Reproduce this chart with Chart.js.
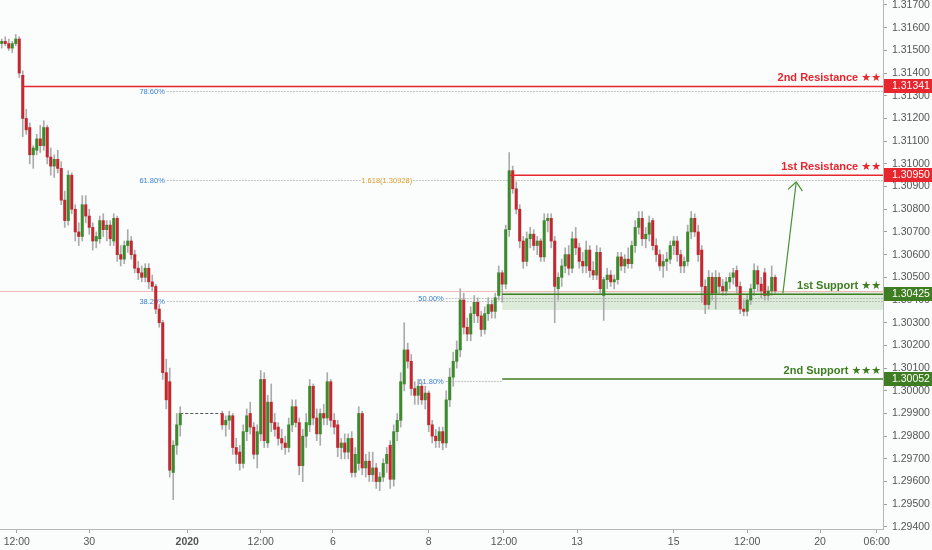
<!DOCTYPE html>
<html><head><meta charset="utf-8">
<script src="https://cdn.jsdelivr.net/npm/chart.js@4.4.1/dist/chart.umd.min.js"></script>
<style>html,body{margin:0;padding:0;background:#fafdfb;overflow:hidden}canvas{display:block}</style>
</head><body>
<canvas id="c" width="932" height="550"></canvas>
<script>
// ---- data (hourly candles) ----
const opens = [
1.3153,1.3154,1.3153,1.3151,1.3153,1.3155,1.3139,1.3120,1.3116,1.3104,
1.3106,1.3111,1.3108,1.3116,1.3103,1.3099,1.3102,1.3098,1.3084,1.3075,
1.3095,1.3080,1.3070,1.3068,1.3082,1.3077,1.3072,1.3066,1.3067,1.3075,
1.3071,1.3073,1.3066,1.3076,1.3060,1.3058,1.3064,1.3066,1.3060,1.3054,
1.3052,1.3050,1.3054,1.3048,1.3046,1.3036,1.3030,1.3008,1.3004,1.2964,
1.2976,1.2985,null,null,null,null,null,null,null,null,
null,null,null,1.2990,1.2985,1.2987,1.2989,1.2975,1.2973,1.2968,
1.2982,1.2990,1.2984,1.2972,1.2981,1.3005,1.2977,1.2995,1.2986,1.2984,
1.2979,1.2977,1.2975,1.2985,1.2993,1.2986,1.2967,1.2980,1.2985,1.3002,
1.2988,1.2981,1.2990,1.2988,1.3004,1.2987,1.2985,1.2975,1.2977,1.2973,
1.2979,1.2964,1.2968,1.2990,1.2966,1.2969,1.2963,1.2966,1.2960,1.2962,
1.2968,1.2976,1.2961,1.2982,1.2987,1.3003,1.3018,1.3013,1.3001,1.2998,
1.3002,1.2996,1.2999,1.2985,1.2980,1.2978,1.2982,1.2977,1.2996,1.3006,
1.3013,1.3018,1.3040,1.3028,1.3025,1.3034,1.3039,1.3033,1.3027,1.3034,
1.3038,1.3035,1.3042,1.3052,1.3047,1.3071,1.3097,1.3089,1.3080,1.3066,
1.3057,1.3067,1.3069,1.3064,1.3066,1.3059,1.3075,1.3076,1.3066,1.3045,
1.3050,1.3055,1.3060,1.3054,1.3067,1.3063,1.3057,1.3055,1.3062,1.3053,
1.3051,1.3061,1.3042,1.3049,1.3051,1.3048,1.3049,1.3059,1.3055,1.3058,
1.3056,1.3064,1.3072,1.3076,1.3067,1.3069,1.3075,1.3064,1.3060,1.3055,
1.3057,1.3058,1.3064,1.3066,1.3060,1.3055,1.3057,1.3070,1.3076,1.3070,
1.3062,1.3046,1.3038,1.3050,1.3043,1.3050,1.3046,1.3044,1.3048,1.3050,
1.3053,1.3046,1.3036,1.3035,1.3040,1.3045,1.3053,1.3047,1.3052,1.3042,
1.3044,1.3050];
const highs = [
1.3155,1.3156,1.3155,1.3154,1.3157,1.3156,1.3141,1.3124,1.3118,1.3108,
1.3113,1.3117,1.3119,1.3117,1.3107,1.3104,1.3106,1.3101,1.3088,1.3097,
1.3096,1.3082,1.3074,1.3086,1.3086,1.3080,1.3074,1.3070,1.3077,1.3078,
1.3075,1.3075,1.3078,1.3077,1.3064,1.3066,1.3071,1.3068,1.3062,1.3057,
1.3055,1.3056,1.3056,1.3051,1.3047,1.3038,1.3031,1.3014,1.3010,1.2978,
1.2990,1.2993,null,null,null,null,null,null,null,null,
null,null,null,1.2991,1.2989,1.2991,1.2990,1.2979,1.2976,1.2985,
1.2992,1.2995,1.2986,1.2985,1.3009,1.3008,1.2998,1.3003,1.2990,1.2986,
1.2983,1.2980,1.2988,1.2996,1.2996,1.2988,1.2983,1.2990,1.3005,1.3003,
1.2992,1.2992,1.2994,1.3008,1.3005,1.2990,1.2987,1.2979,1.2981,1.2981,
1.2982,1.2975,1.2993,1.2991,1.2972,1.2973,1.2973,1.2968,1.2964,1.2970,
1.2975,1.2978,1.2985,1.2990,1.3008,1.3030,1.3021,1.3016,1.3004,1.3005,
1.3004,1.3002,1.3000,1.2987,1.2983,1.2984,1.2984,1.3000,1.3010,1.3017,
1.3022,1.3045,1.3043,1.3032,1.3037,1.3042,1.3041,1.3035,1.3037,1.3041,
1.3040,1.3043,1.3055,1.3053,1.3073,1.3105,1.3099,1.3092,1.3082,1.3068,
1.3070,1.3072,1.3071,1.3068,1.3067,1.3078,1.3078,1.3078,1.3068,1.3052,
1.3058,1.3063,1.3064,1.3070,1.3072,1.3065,1.3061,1.3066,1.3064,1.3057,
1.3064,1.3063,1.3050,1.3054,1.3053,1.3051,1.3061,1.3061,1.3060,1.3063,
1.3066,1.3075,1.3079,1.3079,1.3072,1.3077,1.3076,1.3067,1.3062,1.3060,
1.3061,1.3066,1.3068,1.3068,1.3062,1.3059,1.3073,1.3079,1.3078,1.3073,
1.3064,1.3049,1.3053,1.3052,1.3053,1.3052,1.3049,1.3050,1.3052,1.3054,
1.3055,1.3048,1.3040,1.3042,1.3047,1.3056,1.3055,1.3050,1.3054,1.3046,
1.3055,1.3051];
const lows = [
1.3151,1.3152,1.3150,1.3149,1.3152,1.3138,1.3112,1.3113,1.3100,1.3098,
1.3104,1.3105,1.3106,1.3100,1.3095,1.3094,1.3096,1.3082,1.3072,1.3073,
1.3078,1.3066,1.3064,1.3066,1.3074,1.3069,1.3062,1.3063,1.3065,1.3068,
1.3066,1.3064,1.3064,1.3057,1.3055,1.3056,1.3061,1.3058,1.3052,1.3049,
1.3048,1.3048,1.3045,1.3044,1.3034,1.3028,1.3005,1.2992,1.2962,1.2952,
1.2972,1.2980,null,null,null,null,null,null,null,null,
null,null,null,1.2983,1.2980,1.2983,1.2972,1.2968,1.2965,1.2966,
1.2978,1.2981,1.2970,1.2966,1.2978,1.2975,1.2975,1.2982,1.2980,1.2976,
1.2974,1.2972,1.2973,1.2982,1.2984,1.2963,1.2960,1.2975,1.2982,1.2985,
1.2978,1.2976,1.2985,1.2985,1.2984,1.2981,1.2971,1.2970,1.2970,1.2970,
1.2962,1.2962,1.2965,1.2963,1.2962,1.2960,1.2960,1.2957,1.2956,1.2960,
1.2964,1.2957,1.2958,1.2978,1.2984,1.3000,1.3010,1.2998,1.2994,1.2994,
1.2994,1.2992,1.2982,1.2977,1.2975,1.2975,1.2974,1.2975,1.2993,1.3002,
1.3010,1.3015,1.3025,1.3022,1.3022,1.3030,1.3030,1.3024,1.3025,1.3031,
1.3032,1.3032,1.3040,1.3039,1.3045,1.3068,1.3087,1.3078,1.3063,1.3054,
1.3055,1.3063,1.3062,1.3060,1.3057,1.3057,1.3070,1.3063,1.3030,1.3040,
1.3046,1.3052,1.3051,1.3052,1.3060,1.3054,1.3052,1.3052,1.3050,1.3049,
1.3049,1.3043,1.3031,1.3045,1.3046,1.3045,1.3047,1.3053,1.3052,1.3054,
1.3054,1.3061,1.3069,1.3064,1.3063,1.3066,1.3062,1.3057,1.3053,1.3050,
1.3053,1.3056,1.3060,1.3057,1.3052,1.3052,1.3055,1.3067,1.3068,1.3057,
1.3039,1.3034,1.3036,1.3040,1.3036,1.3043,1.3042,1.3042,1.3045,1.3047,
1.3043,1.3034,1.3033,1.3033,1.3038,1.3042,1.3044,1.3041,1.3040,1.3040,
1.3042,1.3043];
const closes = [
1.3154,1.3153,1.3151,1.3153,1.3155,1.3140,1.3120,1.3115,1.3104,1.3107,
1.3111,1.3108,1.3116,1.3103,1.3099,1.3102,1.3098,1.3084,1.3075,1.3095,
1.3080,1.3070,1.3068,1.3082,1.3077,1.3072,1.3066,1.3068,1.3075,1.3071,
1.3073,1.3067,1.3076,1.3060,1.3058,1.3064,1.3066,1.3060,1.3054,1.3052,
1.3050,1.3054,1.3048,1.3046,1.3036,1.3030,1.3008,1.2996,1.2965,1.2976,
1.2985,1.2990,null,null,null,null,null,null,null,null,
null,null,null,1.2985,1.2987,1.2989,1.2975,1.2972,1.2968,1.2982,
1.2989,1.2984,1.2972,1.2982,1.3005,1.2978,1.2995,1.2986,1.2983,1.2979,
1.2977,1.2975,1.2985,1.2993,1.2986,1.2967,1.2980,1.2986,1.3002,1.2988,
1.2981,1.2990,1.2988,1.3004,1.2987,1.2984,1.2975,1.2977,1.2973,1.2979,
1.2964,1.2972,1.2990,1.2966,1.2969,1.2963,1.2966,1.2960,1.2962,1.2968,
1.2972,1.2961,1.2982,1.2987,1.3004,1.3018,1.3013,1.3001,1.2998,1.3002,
1.2996,1.2999,1.2985,1.2980,1.2978,1.2982,1.2977,1.2996,1.3006,1.3013,
1.3018,1.3040,1.3028,1.3025,1.3034,1.3039,1.3033,1.3027,1.3034,1.3038,
1.3035,1.3041,1.3052,1.3047,1.3071,1.3097,1.3089,1.3080,1.3066,1.3057,
1.3067,1.3069,1.3064,1.3066,1.3059,1.3075,1.3076,1.3066,1.3046,1.3050,
1.3055,1.3060,1.3054,1.3067,1.3063,1.3057,1.3055,1.3062,1.3053,1.3051,
1.3061,1.3045,1.3049,1.3051,1.3048,1.3049,1.3059,1.3055,1.3058,1.3056,
1.3064,1.3072,1.3076,1.3067,1.3069,1.3074,1.3064,1.3060,1.3055,1.3057,
1.3058,1.3064,1.3066,1.3060,1.3055,1.3057,1.3070,1.3076,1.3070,1.3060,
1.3046,1.3038,1.3050,1.3043,1.3050,1.3046,1.3044,1.3048,1.3050,1.3052,
1.3046,1.3036,1.3035,1.3040,1.3045,1.3053,1.3047,1.3044,1.3042,1.3044,
1.3050,1.3044];

// flat holiday segment (no trading)
const holidayX = [51, 63];
const holidayPrice = 1.2990;

// axis ticks
const xTickPos = [4.3, 25, 53, 74, 94.6, 122, 143.5, 164.4, 192, 213, 233.8, 250];
const xTickLabels = ['12:00','30','2020','12:00','6','8','12:00','13','15','12:00','20','06:00'];
const yTicks = [1.294,1.295,1.296,1.297,1.298,1.299,1.300,1.301,1.302,1.303,1.304,1.305,
                1.306,1.307,1.308,1.309,1.310,1.311,1.312,1.313,1.314,1.315,1.316,1.317];
const yMin = 1.29391, yMax = 1.31722;
const xMin = -0.5, xMax = 251.8;

// key levels
const levelPrices = [1.31341, 1.30950, 1.30425, 1.30052];
const levelNames  = ['2nd Resistance \u2605\u2605', '1st Resistance \u2605\u2605', '1st Support \u2605\u2605', '2nd Support \u2605\u2605\u2605'];
const levelFrom   = [5.8, 145.3, 143, 143];
const levelKind   = ['res', 'res', 'sup', 'sup'];

// support zone
const zoneFrom = 143, zoneTop = 1.30436, zoneBottom = 1.30356;

// fibonacci levels
const fibPrices = [1.31321, 1.30929, 1.30396, 1.30409, 1.30044];
const fibNames  = ['78.60%', '61.80%', '38.20%', '50.00%', '61.80%'];
const fibFrom   = [46.6, 46.6, 46.6, 126.3, 126.3];
const fibTo     = [xMax, xMax, xMax, xMax, 143];
const extLabel = '1.618(1.30928)', extPrice = 1.30928, extFrom = 103.2, extTo = 116.8;

// projected move arrow
const arrowFrom = [223.2, 1.3043];
const arrowTo   = [227.0, 1.3092];

// ---- styling ----
const GREEN = '#3d8a2c', RED = '#c3272f';
const RES_COL = '#e8262e', SUP_COL = '#3f7d22';
const FONT = '"Liberation Sans","DejaVu Sans",sans-serif';

const wickData = [], bodyData = [], bodyColors = [];
for (let i = 0; i < opens.length; i++) {
  if (opens[i] == null) continue;
  const o = opens[i], c = closes[i];
  wickData.push({x: i, y: [lows[i], highs[i]]});
  bodyData.push({x: i, y: [Math.min(o, c), Math.max(o, c)]});
  bodyColors.push(c >= o ? GREEN : RED);
}
const lastClose = closes[closes.length - 1];

const overlay = {
  id: 'overlay',
  beforeDatasetsDraw(chart) {
    const {ctx, chartArea: a, scales: {x, y}} = chart;
    ctx.save();
    const zx = x.getPixelForValue(zoneFrom);
    const zt = y.getPixelForValue(zoneTop), zb = y.getPixelForValue(zoneBottom);
    ctx.fillStyle = 'rgba(120,175,105,0.22)';
    ctx.fillRect(zx, zt, a.right - zx, zb - zt);
    ctx.lineWidth = 1;
    for (let i = 0; i < fibPrices.length; i++) {
      const py = Math.round(y.getPixelForValue(fibPrices[i])) + 0.5;
      const x1 = x.getPixelForValue(fibFrom[i]), x2 = x.getPixelForValue(fibTo[i]);
      ctx.strokeStyle = 'rgba(150,150,150,0.55)';
      ctx.setLineDash([2, 1]);
      ctx.beginPath(); ctx.moveTo(x1 + 2, py); ctx.lineTo(x2, py); ctx.stroke();
      ctx.setLineDash([]);
      ctx.fillStyle = '#3b7fd6';
      ctx.font = '7.5px ' + FONT;
      ctx.textAlign = 'right'; ctx.textBaseline = 'middle';
      ctx.fillText(fibNames[i], x1, py);
    }
    const ex1 = x.getPixelForValue(extFrom), ex2 = x.getPixelForValue(extTo);
    const ey = Math.round(y.getPixelForValue(extPrice)) + 0.5;
    ctx.fillStyle = '#fafdfb';
    ctx.fillRect(ex1 - 2, ey - 5, ex2 - ex1 + 4, 10);
    ctx.fillStyle = '#d99a2b';
    ctx.font = '7.5px ' + FONT;
    ctx.textAlign = 'center'; ctx.textBaseline = 'middle';
    ctx.fillText(extLabel, (ex1 + ex2) / 2, ey);
    const ly = Math.round(y.getPixelForValue(lastClose)) + 0.5;
    ctx.strokeStyle = 'rgba(235,130,130,0.55)';
    ctx.beginPath(); ctx.moveTo(a.left, ly); ctx.lineTo(a.right, ly); ctx.stroke();
    ctx.restore();
  },
  afterDatasetsDraw(chart) {
    const {ctx, chartArea: a, scales: {x, y}} = chart;
    ctx.save();
    for (let i = 0; i < levelPrices.length; i++) {
      const col = levelKind[i] === 'res' ? RES_COL : SUP_COL;
      const py = y.getPixelForValue(levelPrices[i]);
      ctx.strokeStyle = col; ctx.lineWidth = 1.5;
      ctx.beginPath(); ctx.moveTo(x.getPixelForValue(levelFrom[i]), py); ctx.lineTo(a.right, py); ctx.stroke();
      ctx.fillStyle = col;
      ctx.font = 'bold 11px ' + FONT;
      ctx.textAlign = 'right'; ctx.textBaseline = 'middle';
      ctx.fillText(levelNames[i], a.right - 2, py - 8);
    }
    const ax1 = x.getPixelForValue(arrowFrom[0]), ay1 = y.getPixelForValue(arrowFrom[1]);
    const ax2 = x.getPixelForValue(arrowTo[0]), ay2 = y.getPixelForValue(arrowTo[1]);
    ctx.strokeStyle = '#4b8f35'; ctx.lineWidth = 1.2;
    ctx.beginPath(); ctx.moveTo(ax1, ay1); ctx.lineTo(ax2, ay2); ctx.stroke();
    const ang = Math.atan2(ay1 - ay2, ax1 - ax2), L = 11, spread = 0.72;
    ctx.beginPath();
    ctx.moveTo(ax2 + L * Math.cos(ang - spread), ay2 + L * Math.sin(ang - spread));
    ctx.lineTo(ax2, ay2);
    ctx.lineTo(ax2 + L * Math.cos(ang + spread), ay2 + L * Math.sin(ang + spread));
    ctx.stroke();
    ctx.restore();
  },
  afterDraw(chart) {
    const {ctx, chartArea: a, scales: {y}} = chart;
    ctx.save();
    for (let i = 0; i < levelPrices.length; i++) {
      const col = levelKind[i] === 'res' ? RES_COL : SUP_COL;
      const py = y.getPixelForValue(levelPrices[i]);
      ctx.fillStyle = col;
      ctx.fillRect(a.right + 1, Math.round(py) - 7, chart.width - a.right - 1, 14);
      ctx.fillStyle = '#ffffff';
      ctx.font = '10.5px ' + FONT;
      ctx.textAlign = 'left'; ctx.textBaseline = 'middle';
      ctx.fillText(levelPrices[i].toFixed(5), a.right + 9, Math.round(py) + 0.5);
    }
    ctx.restore();
  }
};

new Chart(document.getElementById('c'), {
  type: 'bar',
  data: {
    datasets: [
      {type: 'line', data: holidayX.map(v => ({x: v, y: holidayPrice})), borderColor: '#555', borderWidth: 1,
       borderDash: [3, 2], pointRadius: 0, order: 3},
      {data: wickData, backgroundColor: '#ababab', barThickness: 1, grouped: false, order: 2},
      {data: bodyData, backgroundColor: bodyColors, barThickness: 2.4, grouped: false, minBarLength: 1, order: 1}
    ]
  },
  options: {
    responsive: false,
    animation: false,
    layout: {padding: 0},
    plugins: {legend: {display: false}, tooltip: {enabled: false}},
    scales: {
      x: {
        type: 'linear', min: xMin, max: xMax, offset: false,
        grid: {offset: false, drawOnChartArea: false, drawTicks: true, tickLength: 4, color: '#a0a0a0'},
        border: {color: '#b8b8b8'},
        afterBuildTicks: s => { s.ticks = xTickPos.map(v => ({value: v})); },
        afterFit: s => { s.height = 21; s.paddingLeft = 0; s.paddingRight = 0; },
        ticks: {
          autoSkip: false, maxRotation: 0, padding: 3, color: '#555',
          font: c => ({family: FONT, size: 10.5, weight: xTickLabels[c.index] === '2020' ? 'bold' : 'normal'}),
          callback: (v, i) => xTickLabels[i]
        }
      },
      y: {
        position: 'right', min: yMin, max: yMax,
        grid: {offset: false, drawOnChartArea: false, drawTicks: true, tickLength: 4, color: '#a0a0a0'},
        border: {color: '#b8b8b8'},
        afterBuildTicks: s => { s.ticks = yTicks.map(v => ({value: v})); },
        afterFit: s => { s.width = 49; s.paddingTop = 0; s.paddingBottom = 0; },
        ticks: {padding: 5, color: '#555', font: {family: FONT, size: 10.5}, callback: v => v.toFixed(5)}
      }
    }
  },
  plugins: [overlay]
});
</script>
</body></html>
